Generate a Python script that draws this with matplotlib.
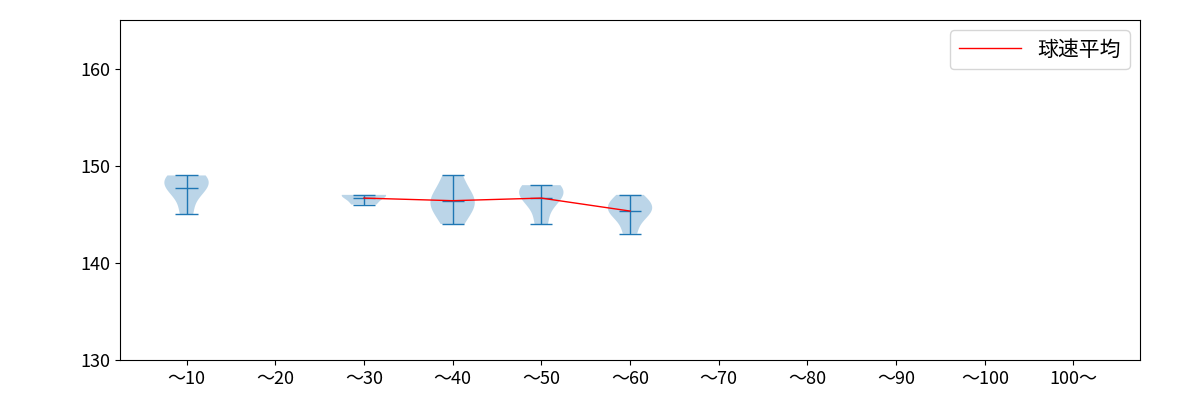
import numpy as np
import matplotlib
matplotlib.use('Agg')
import matplotlib.pyplot as plt

plt.rcParams['font.family'] = ['Noto Sans CJK JP', 'DejaVu Sans']

labels = ['～10', '～20', '～30', '～40', '～50', '～60', '～70', '～80', '～90', '～100', '100～']
speeds = {
    1: [145, 147, 148, 149, 149, 148],
    3: [146, 147, 147],
    4: [144, 146, 146, 147, 149],
    5: [144, 146, 147, 147, 148, 148],
    6: [143, 145, 145, 146, 147, 146],
}

fig, ax = plt.subplots(figsize=(12, 4), dpi=100)
pos = list(speeds.keys())
parts = ax.violinplot([speeds[p] for p in pos], positions=pos, showmeans=True)
for k in ('cmeans', 'cmins', 'cmaxes', 'cbars'):
    parts[k].set_linewidth(1)

means = [np.mean(speeds[i]) if i in speeds else np.nan for i in range(1, len(labels) + 1)]
ax.plot(range(1, len(labels) + 1), means, color='red', linewidth=1, label='球速平均')

ax.set_xticks(range(1, len(labels) + 1))
ax.set_xticklabels(labels, fontsize=13)
ax.set_yticks([130, 140, 150, 160])
ax.tick_params(axis='y', labelsize=13)
ax.set_xlim(0.25, 11.75)
ax.set_ylim(130, 165)
ax.legend(loc='upper right', fontsize=15, handlelength=3)
plt.subplots_adjust(left=0.1, right=0.95, top=0.95, bottom=0.1)
plt.savefig('out.png')
